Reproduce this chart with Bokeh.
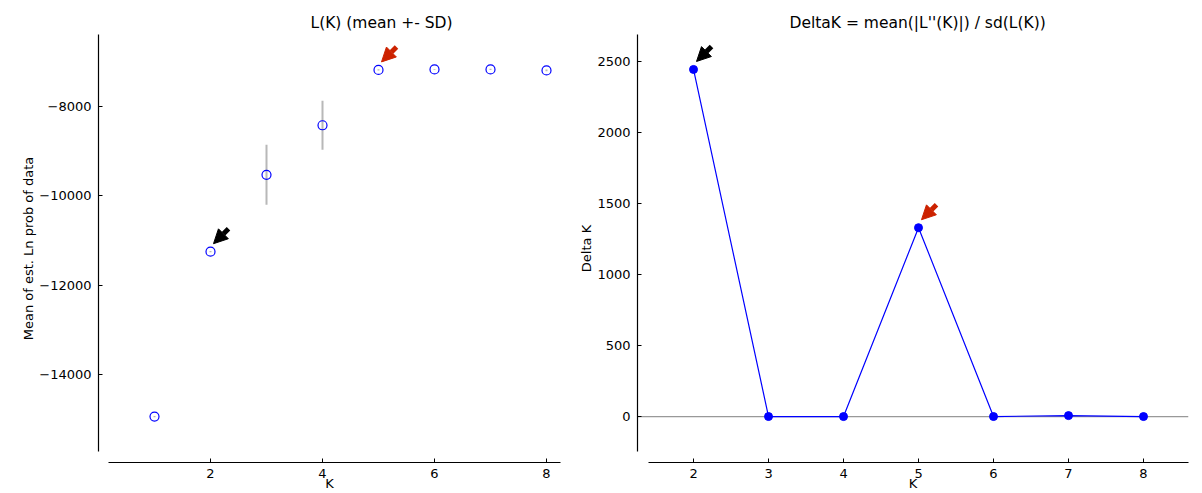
from bokeh.plotting import figure
from bokeh.models import (Range1d, SingleIntervalTicker, CustomJSTickFormatter,
                          Span, Arrow, NormalHead, ColumnDataSource, Title)
from bokeh.layouts import row
from bokeh.embed import file_html
from bokeh.resources import INLINE

# ---------------- data ----------------
k_values = [1, 2, 3, 4, 5, 6, 7, 8]
mean_lnp = [-14936, -11249, -9532, -8424, -7186, -7175, -7175, -7197]
sd_lnp = [12, 16, 670, 546, 14, 10, 12, 18]

k_delta = [2, 3, 4, 5, 6, 7, 8]
delta_k = [2444, 0.5, 0.3, 1330, 0.6, 7, 0.4]

left_title = "L(K) (mean +- SD)"
right_title = "DeltaK = mean(|L''(K)|) / sd(L(K))"
left_ylabel = "Mean of est. Ln prob of data"
right_ylabel = "Delta K"
xlabel = "K"

FONT = "DejaVu Sans"
minus_fmt = CustomJSTickFormatter(
    code="return (tick < 0 ? '\\u2212' : '') + Math.abs(tick).toFixed(0);")


def style(p, title, title_offset, xb, yb, xint, yint, ylabel):
    p.outline_line_color = None
    p.xgrid.grid_line_color = None
    p.ygrid.grid_line_color = None
    p.background_fill_color = "white"
    p.border_fill_color = "white"
    p.add_layout(Title(text=title, align="left", offset=title_offset,
                       text_font=FONT, text_font_size="15.5px",
                       text_font_style="normal", text_color="black",
                       standoff=5), "above")
    p.xaxis.ticker = SingleIntervalTicker(interval=xint)
    p.yaxis.ticker = SingleIntervalTicker(interval=yint)
    p.yaxis.formatter = minus_fmt
    p.xaxis.bounds = xb
    p.yaxis.bounds = yb
    for ax in (p.xaxis, p.yaxis):
        ax.axis_line_color = "black"
        ax.axis_line_width = 1.2
        ax.major_tick_in = 4
        ax.major_tick_out = 0
        ax.major_tick_line_color = "black"
        ax.minor_tick_line_color = None
        ax.major_label_text_font = FONT
        ax.major_label_text_font_size = "13px"
        ax.major_label_text_color = "black"
        ax.axis_label_text_font = FONT
        ax.axis_label_text_font_size = "13px"
        ax.axis_label_text_font_style = "normal"
        ax.axis_label_text_color = "black"
    p.xaxis.major_label_standoff = 2
    p.xaxis.axis_label_standoff = -5
    p.yaxis.major_label_standoff = 3
    p.yaxis.axis_label_standoff = 0
    p.xaxis.axis_label = xlabel
    p.yaxis.axis_label = ylabel


def add_arrow(p, xk, yv, pxx, pxy, color):
    # arrow offsets expressed in screen pixels, converted to data units
    tip = (3, 8)
    tail = (18, 23)
    p.add_layout(Arrow(
        end=NormalHead(size=14, fill_color=color, line_color=color, line_width=1),
        x_start=xk + tail[0] / pxx, y_start=yv + tail[1] / pxy,
        x_end=xk + tip[0] / pxx, y_end=yv + tip[1] / pxy,
        line_color=color, line_width=5))


# ---------------- left panel ----------------
p1 = figure(width=570, height=493, x_range=Range1d(0.0, 8.25),
            y_range=Range1d(-15962, -6395), output_backend="svg",
            toolbar_location=None,
            min_border_left=98, min_border_right=10,
            min_border_top=34, min_border_bottom=30)
style(p1, left_title, 212, (0.18, 8.25), (-15717, -6395), 2, 2000, left_ylabel)

src1 = ColumnDataSource(dict(
    k=k_values, m=mean_lnp,
    lo=[m - s for m, s in zip(mean_lnp, sd_lnp)],
    hi=[m + s for m, s in zip(mean_lnp, sd_lnp)]))
p1.segment(x0="k", y0="lo", x1="k", y1="hi", source=src1,
           line_color="#b8b8b8", line_width=2)
p1.scatter(x="k", y="m", source=src1, size=9, marker="circle",
           fill_color=None, line_color="blue", line_width=1.2)

px1 = 462 / 8.25
py1 = 429 / (-6395 + 15962)
add_arrow(p1, k_values[1], mean_lnp[1], px1, py1, "black")
add_arrow(p1, k_values[4], mean_lnp[4], px1, py1, "#cc2200")

# ---------------- right panel ----------------
p2 = figure(width=632, height=493, x_range=Range1d(1.253, 8.6),
            y_range=Range1d(-323, 2690), output_backend="svg",
            toolbar_location=None,
            min_border_left=67, min_border_right=14,
            min_border_top=34, min_border_bottom=30)
style(p2, right_title, 152, (1.4, 8.6), (-246, 2690), 1, 500, right_ylabel)

p2.add_layout(Span(location=0, dimension="width", line_color="#999999",
                   line_width=1.2, level="underlay"))
src2 = ColumnDataSource(dict(k=k_delta, d=delta_k))
p2.line(x="k", y="d", source=src2, line_color="blue", line_width=1.2)
p2.scatter(x="k", y="d", source=src2, size=8, marker="circle",
           fill_color="blue", line_color="blue")

px2 = 551 / (8.6 - 1.253)
py2 = 429 / (2690 + 323)
add_arrow(p2, k_delta[0], delta_k[0], px2, py2, "black")
add_arrow(p2, k_delta[3], delta_k[3], px2, py2, "#cc2200")

layout = row(p1, p2, spacing=0)
open("out.html", "w").write(file_html(layout, INLINE))
